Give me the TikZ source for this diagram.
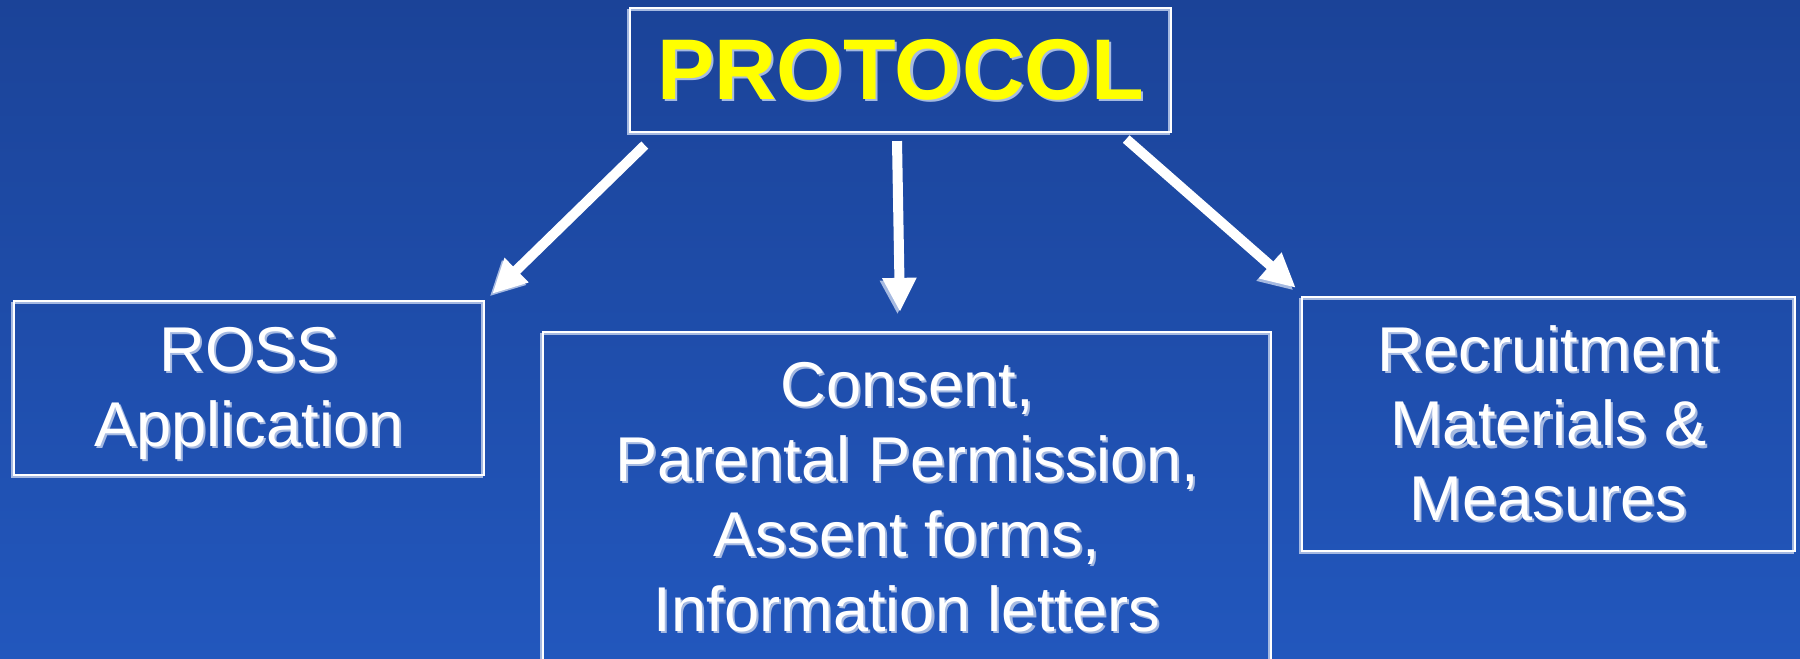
\documentclass[tikz,border=0pt]{standalone}
\usepackage{fontspec}
\setmainfont{Liberation Sans}
\usetikzlibrary{arrows.meta}
\definecolor{bgtop}{RGB}{27,67,152}
\definecolor{bgbottom}{RGB}{34,87,189}
\definecolor{shade}{RGB}{165,185,225}
\definecolor{protoyellow}{RGB}{255,255,0}
\newcommand{\shtext}[1]{\vrule height 0.905em depth 0.212em width 0pt\makebox[0pt][l]{\kern0.6pt\raisebox{-0.6pt}{\color{shade}#1}}#1}

\begin{document}
\begin{tikzpicture}[x=0.01cm, y=-0.01cm, >={Triangle[length=9.7pt,width=9.1pt]},
	box/.style={draw=white, line width=0.6pt, align=center, text=white, inner sep=0pt,
		font=\fontsize{18}{21.3}\selectfont,
		preaction={draw=shade, transform canvas={shift={(-0.5pt,-0.5pt)}}}},
	arr/.style={->, draw=white, line width=2.85pt,
		preaction={draw=shade, transform canvas={shift={(-0.7pt,-0.7pt)}}}}]
		\useasboundingbox (0,0) rectangle (1800,659);
		\clip (0,0) rectangle (1800,659);
		\fill[top color=bgtop, bottom color=bgbottom] (0,0) rectangle (1800,659);
		
		\node[box, text=protoyellow, font=\fontsize{24.5}{29}\selectfont\bfseries, minimum width=5.41cm, minimum height=1.24cm] (protocol) at (900.5,70) {\shtext{PROTOCOL}};
		
		\node[box, minimum width=4.70cm, minimum height=1.74cm] (ross) at (249,388) {\shtext{ROSS}\\ \shtext{Application}};
		\node[box, anchor=north, minimum width=7.28cm, minimum height=3.3cm] (consent) at (907,331) {\shtext{Consent,}\\ \shtext{Parental Permission,}\\ \shtext{Assent forms,}\\ \shtext{Information letters}};
		\node[box, minimum width=4.93cm, minimum height=2.54cm] (recruit) at (1548.5,424) {\shtext{Recruitment}\\ \shtext{Materials \&}\\ \shtext{Measures}};
		
		\draw[arr] ([shift={(16,12)}]protocol.south west) -- ([shift={(7,-6)}]ross.north east);
		\draw[arr] ([shift={(-3.5,8)}]protocol.south) -- ([shift={(-7,-19)}]consent.north);
		\draw[arr] ([shift={(-46,6)}]protocol.south east) -- ([shift={(-5,-8)}]recruit.north west);
	\end{tikzpicture}
\end{document}
